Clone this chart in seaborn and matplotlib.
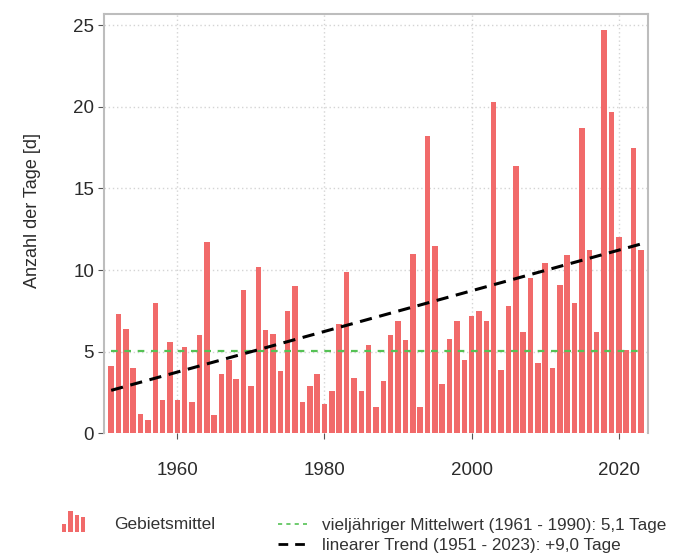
import numpy as np
import pandas as pd
import matplotlib
matplotlib.use("Agg")
import matplotlib.pyplot as plt
from matplotlib.legend_handler import HandlerBase
from matplotlib.patches import Rectangle
from matplotlib.lines import Line2D
import seaborn as sns

# Anzahl der Tage je Jahr, Gebietsmittel 1951-2023
years = list(range(1951, 2024))
days = [
    4.1, 7.3, 6.4, 4.0, 1.2, 0.8, 8.0, 2.0, 5.6, 2.0,
    5.3, 1.9, 6.0, 11.7, 1.1, 3.6, 4.5, 3.3, 8.8, 2.9,
    10.2, 6.3, 6.1, 3.8, 7.5, 9.0, 1.9, 2.9, 3.6, 1.8,
    2.6, 6.7, 9.9, 3.4, 2.6, 5.4, 1.6, 3.2, 6.0, 6.9,
    5.7, 11.0, 1.6, 18.2, 11.5, 3.0, 5.8, 6.9, 4.5, 7.2,
    7.5, 6.9, 20.3, 3.9, 7.8, 16.4, 6.2, 9.5, 4.3, 10.4,
    4.0, 9.1, 10.9, 8.0, 18.7, 11.2, 6.2, 24.7, 19.7, 12.0,
    5.1, 17.5, 11.2,
]
x_ticks = [1960, 1980, 2000, 2020]
y_ticks = [0, 5, 10, 15, 20, 25]

bar_label = "Gebietsmittel"
mean_label = "vieljähriger Mittelwert (1961 - 1990): 5,1 Tage"
trend_label = "linearer Trend (1951 - 2023): +9,0 Tage"

BAR_COLOR = "#f16a6a"
MEAN_COLOR = "#55c255"
TEXT_COLOR = "#2b2b2b"

df = pd.DataFrame({"Jahr": years, "Tage": days})

# vieljähriges Mittel 1961-1990 und linearer Trend
ref = df[(df.Jahr >= 1961) & (df.Jahr <= 1990)]
mean_ref = ref.Tage.mean()
slope, icpt = np.polyfit(df.Jahr, df.Tage, 1)
df["Trend"] = icpt + slope * df.Jahr
df["Mittel"] = mean_ref

sns.set_style("white")
plt.rcParams["font.family"] = ["Liberation Sans", "DejaVu Sans"]

fig = plt.figure(figsize=(6.83, 5.56), dpi=100)
ax = fig.add_axes([0.152, 0.221, 0.797, 0.754])

sns.barplot(data=df, x="Jahr", y="Tage", native_scale=True, color=BAR_COLOR,
            width=0.75, saturation=1, edgecolor="none", ax=ax, zorder=2)
sns.lineplot(data=df, x="Jahr", y="Mittel", color=MEAN_COLOR, lw=1.6,
             linestyle=(0, (3, 3)), ax=ax, zorder=3)
sns.lineplot(data=df, x="Jahr", y="Trend", color="black", lw=2.2,
             linestyle=(0, (4, 2.5)), ax=ax, zorder=4)

ax.set_xlim(1950, 2024)
ax.set_ylim(0, 25.7)
ax.set_xticks(x_ticks)
ax.set_yticks(y_ticks)
ax.set_xlabel("")
ax.set_ylabel("Anzahl der Tage [d]", fontsize=13, color=TEXT_COLOR)
ax.yaxis.set_label_coords(-0.115, 0.53)
ax.tick_params(axis="both", labelsize=13.5, colors=TEXT_COLOR, length=4,
               width=0.8, direction="out", bottom=True, left=True)
ax.tick_params(axis="x", pad=17, color="#555555")
ax.tick_params(axis="y", pad=3, color="#555555")
ax.grid(True, color="#d4d4d4", linestyle=(0, (1, 2)), lw=1.0, zorder=0)
ax.set_axisbelow(True)
for side in ["left", "top", "right"]:
    ax.spines[side].set_color("#bdbdbd")
    ax.spines[side].set_linewidth(1.5)
ax.spines["bottom"].set_visible(False)


class BarIconHandler(HandlerBase):
    # kleines Balkendiagramm-Symbol fuer die Legende
    def create_artists(self, legend, orig_handle, xdescent, ydescent,
                       width, height, fontsize, trans):
        heights = [0.38, 1.0, 0.8, 0.72]
        bw = width / 5.5
        gap = (width - 4 * bw) / 3
        arts = []
        for i, h in enumerate(heights):
            r = Rectangle((-xdescent + i * (bw + gap), -ydescent + height * 0.1),
                          bw, height * h,
                          facecolor=BAR_COLOR, edgecolor="none", transform=trans)
            arts.append(r)
        return arts


bar_handle = Rectangle((0, 0), 1, 1, color=BAR_COLOR)
leg1 = fig.legend([bar_handle], [bar_label], handler_map={Rectangle: BarIconHandler()},
                  loc="center left", bbox_to_anchor=(0.091, 0.058), frameon=False,
                  fontsize=12.5, handlelength=1.32, handleheight=1.55,
                  handletextpad=1.7, borderpad=0, borderaxespad=0)
for t in leg1.get_texts():
    t.set_color("#333333")

mean_handle = Line2D([], [], color=MEAN_COLOR, lw=1.2, linestyle=(0, (2.5, 2.5)))
trend_handle = Line2D([], [], color="black", lw=2.0, linestyle=(0, (3.5, 2.5)))
leg2 = fig.legend([mean_handle, trend_handle], [mean_label, trend_label],
                  loc="center left", bbox_to_anchor=(0.407, 0.037), frameon=False,
                  fontsize=12.3, handlelength=1.67, handletextpad=0.92,
                  labelspacing=0.25, borderpad=0, borderaxespad=0)
for t in leg2.get_texts():
    t.set_color("#333333")

fig.savefig("out.png", dpi=100)
